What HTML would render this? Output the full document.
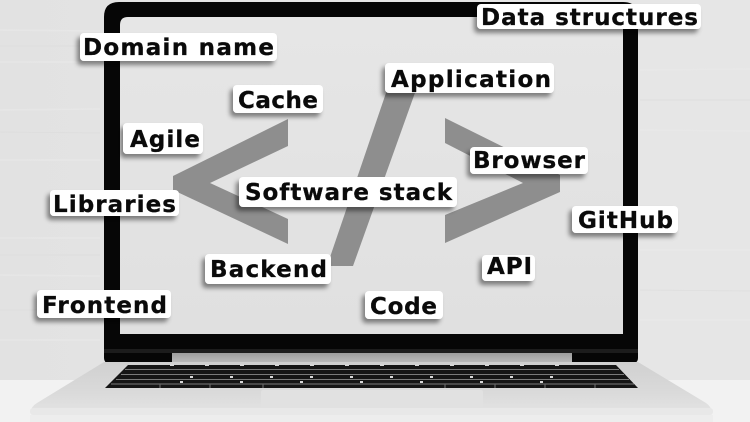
<!DOCTYPE html>
<html>
<head>
<meta charset="utf-8">
<style>
html,body{margin:0;padding:0;background:#e4e4e4;}
body{width:750px;height:422px;overflow:hidden;}
svg{display:block;}
text{font-family:"DejaVu Sans","Liberation Sans",sans-serif;font-weight:bold;font-size:23px;fill:#0a0a0a;stroke:#0a0a0a;stroke-width:0.3px;}
</style>
</head>
<body>
<svg width="750" height="422" viewBox="0 0 750 422" xmlns="http://www.w3.org/2000/svg">
<defs>
  <linearGradient id="wall" x1="0" y1="0" x2="1" y2="0">
    <stop offset="0" stop-color="#e2e2e2"/>
    <stop offset="0.5" stop-color="#e6e6e6"/>
    <stop offset="1" stop-color="#e6e6e6"/>
  </linearGradient>
  <linearGradient id="screen" x1="0" y1="0" x2="0" y2="1">
    <stop offset="0" stop-color="#e6e6e6"/>
    <stop offset="1" stop-color="#e0e0e0"/>
  </linearGradient>
  <linearGradient id="base" x1="0" y1="0" x2="0" y2="1">
    <stop offset="0" stop-color="#d0d0d0"/>
    <stop offset="0.6" stop-color="#dadada"/>
    <stop offset="1" stop-color="#e4e4e4"/>
  </linearGradient>
  <linearGradient id="hinge" x1="0" y1="0" x2="0" y2="1">
    <stop offset="0" stop-color="#9c9c9c"/>
    <stop offset="1" stop-color="#bdbdbd"/>
  </linearGradient>
  <filter id="sh" x="-20%" y="-40%" width="140%" height="190%">
    <feDropShadow dx="-3" dy="4" stdDeviation="2.5" flood-color="#000" flood-opacity="0.45"/>
  </filter>
</defs>

<!-- wall -->
<rect x="0" y="0" width="750" height="380" fill="url(#wall)"/>
<g stroke="#ebebeb" stroke-width="1.5" opacity="0.5">
  <line x1="0" y1="30" x2="100" y2="31"/>
  <line x1="0" y1="62" x2="100" y2="62"/>
  <line x1="0" y1="110" x2="100" y2="109"/>
  <line x1="0" y1="160" x2="100" y2="160"/>
  <line x1="0" y1="238" x2="100" y2="238"/>
  <line x1="0" y1="275" x2="100" y2="276"/>
  <line x1="0" y1="340" x2="100" y2="340"/>
  <line x1="640" y1="70" x2="750" y2="69"/>
  <line x1="640" y1="130" x2="750" y2="131"/>
  <line x1="640" y1="250" x2="750" y2="250"/>
  <line x1="640" y1="320" x2="750" y2="320"/>
</g>
<g stroke="#dadada" stroke-width="1" opacity="0.5">
  <line x1="0" y1="46" x2="100" y2="46"/>
  <line x1="0" y1="132" x2="100" y2="133"/>
  <line x1="0" y1="255" x2="100" y2="255"/>
  <line x1="0" y1="310" x2="100" y2="310"/>
  <line x1="640" y1="100" x2="750" y2="100"/>
  <line x1="640" y1="290" x2="750" y2="291"/>
</g>
<!-- table -->
<rect x="0" y="380" width="750" height="42" fill="#f2f2f2"/>

<!-- laptop bezel -->
<path d="M104,17 Q104,2 119,2 L623,2 Q638,2 638,17 L638,358 Q638,363 633,363 L109,363 Q104,363 104,358 Z" fill="#060606"/>
<rect x="104" y="349" width="534" height="4" fill="#1c1c1c"/>
<!-- screen -->
<path d="M120,25 Q120,17 128,17 L615,17 Q623,17 623,25 L623,334 L120,334 Z" fill="url(#screen)"/>
<!-- hinge -->
<rect x="172" y="353" width="400" height="10" fill="url(#hinge)"/>

<!-- base -->
<path d="M104,362 L638,362 L706,403 Q713,408 711,414 L32,414 Q29,408 37,403 Z" fill="url(#base)"/>
<rect x="30" y="408" width="683" height="7" rx="3" fill="#e8e8e8"/>
<rect x="261" y="390" width="222" height="17" rx="2" fill="#e1e1e1"/>
<rect x="30" y="415" width="683" height="7" fill="#ededed"/>

<!-- keyboard -->
<polygon points="128,365 616,365 638,388 105,388" fill="#151515"/>
<g stroke="#7a7a7a" stroke-width="1">
  <line x1="125" y1="369.5" x2="619" y2="369.5"/>
  <line x1="121" y1="374.5" x2="624" y2="374.5"/>
  <line x1="116" y1="379.5" x2="629" y2="379.5"/>
  <line x1="111" y1="384" x2="634" y2="384"/>
</g>
<g fill="#d8d8d8">
  <rect x="170" y="364" width="4" height="2"/><rect x="205" y="364" width="4" height="2"/>
  <rect x="240" y="364" width="4" height="2"/><rect x="275" y="364" width="4" height="2"/>
  <rect x="310" y="364" width="4" height="2"/><rect x="345" y="364" width="4" height="2"/>
  <rect x="380" y="364" width="4" height="2"/><rect x="415" y="364" width="4" height="2"/>
  <rect x="450" y="364" width="4" height="2"/><rect x="485" y="364" width="4" height="2"/>
  <rect x="520" y="364" width="4" height="2"/><rect x="555" y="364" width="4" height="2"/>
  <rect x="190" y="376" width="3" height="2"/><rect x="230" y="376" width="3" height="2"/>
  <rect x="270" y="376" width="3" height="2"/><rect x="310" y="376" width="3" height="2"/>
  <rect x="350" y="376" width="3" height="2"/><rect x="390" y="376" width="3" height="2"/>
  <rect x="430" y="376" width="3" height="2"/><rect x="470" y="376" width="3" height="2"/>
  <rect x="510" y="376" width="3" height="2"/><rect x="550" y="376" width="3" height="2"/>
  <rect x="180" y="381" width="3" height="2"/><rect x="240" y="381" width="3" height="2"/>
  <rect x="300" y="381" width="3" height="2"/><rect x="360" y="381" width="3" height="2"/>
  <rect x="420" y="381" width="3" height="2"/><rect x="480" y="381" width="3" height="2"/>
  <rect x="540" y="381" width="3" height="2"/>
</g>
<g stroke="#666" stroke-width="1.2">
  <line x1="160" y1="384" x2="160" y2="388"/>
  <line x1="210" y1="384" x2="210" y2="388"/>
  <line x1="263" y1="384" x2="263" y2="388"/>
  <line x1="445" y1="384" x2="445" y2="388"/>
  <line x1="495" y1="384" x2="495" y2="388"/>
  <line x1="545" y1="384" x2="545" y2="388"/>
  <line x1="595" y1="384" x2="595" y2="388"/>
</g>

<!-- code symbol -->
<g fill="#8e8e8e">
  <polygon points="288,119 288,146 210,183 288,219 288,244 173,190 173,176"/>
  <polygon points="387,90 416,90 353,266 327,266"/>
  <polygon points="445,118 445,143 523,183 445,215 445,243 560,192 560,175"/>
</g>

<!-- labels -->
<g filter="url(#sh)" fill="#fff">
  <rect x="477" y="4" width="224" height="25" rx="4"/>
  <rect x="80" y="33" width="197" height="28" rx="4"/>
  <rect x="233" y="85" width="90" height="28" rx="4"/>
  <rect x="123" y="123" width="80" height="31" rx="4"/>
  <rect x="50" y="190" width="129" height="26" rx="4"/>
  <rect x="239" y="177" width="218" height="30" rx="4"/>
  <rect x="385" y="63" width="169" height="30" rx="4"/>
  <rect x="470" y="147" width="118" height="27" rx="4"/>
  <rect x="572" y="206" width="106" height="27" rx="4"/>
  <rect x="482" y="255" width="53" height="26" rx="4"/>
  <rect x="365" y="291" width="78" height="28" rx="4"/>
  <rect x="205" y="254" width="126" height="30" rx="4"/>
  <rect x="37" y="290" width="134" height="28" rx="4"/>
</g>
<g>
  <text x="481" y="25" textLength="217" lengthAdjust="spacing">Data structures</text>
  <text x="83" y="55" textLength="191" lengthAdjust="spacing">Domain name</text>
  <text x="238" y="108" textLength="80" lengthAdjust="spacing">Cache</text>
  <text x="130" y="147" textLength="70" lengthAdjust="spacing">Agile</text>
  <text x="53" y="212" textLength="123" lengthAdjust="spacing">Libraries</text>
  <text x="245" y="200" textLength="207" lengthAdjust="spacing">Software stack</text>
  <text x="391" y="87" textLength="160" lengthAdjust="spacing">Application</text>
  <text x="473" y="168" textLength="112" lengthAdjust="spacing">Browser</text>
  <text x="578" y="228" textLength="95" lengthAdjust="spacing">GitHub</text>
  <text x="487" y="274" textLength="45" lengthAdjust="spacing">API</text>
  <text x="370" y="314" textLength="67" lengthAdjust="spacing">Code</text>
  <text x="210" y="277" textLength="117" lengthAdjust="spacing">Backend</text>
  <text x="42" y="313" textLength="125" lengthAdjust="spacing">Frontend</text>
</g>
</svg>
</body>
</html>
